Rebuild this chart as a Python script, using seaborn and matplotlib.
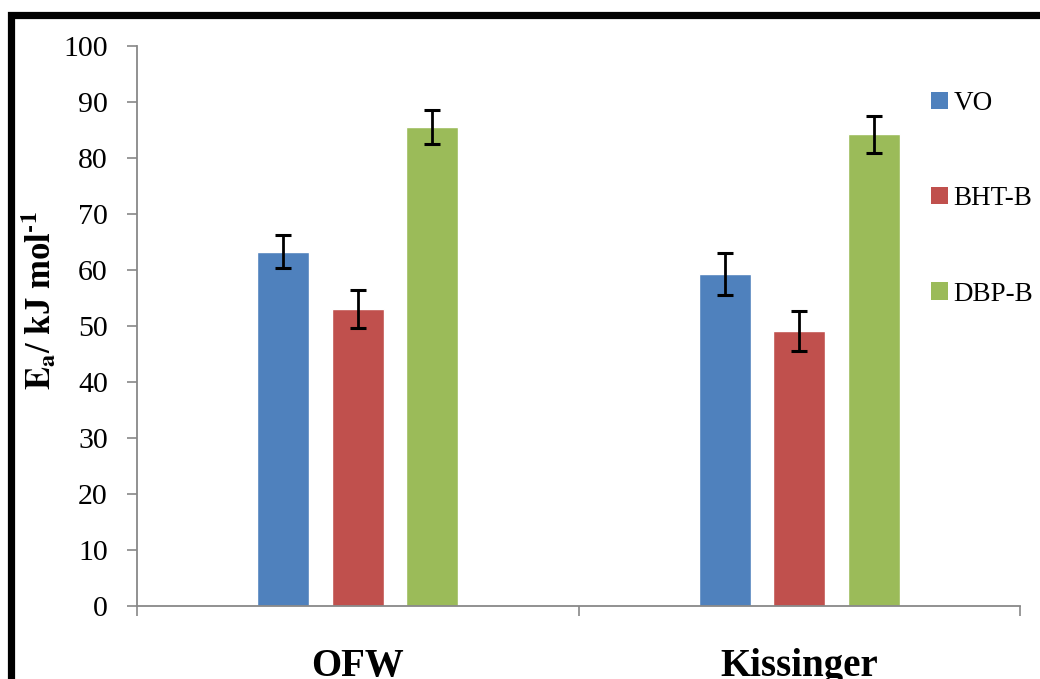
import numpy as np
import pandas as pd
import matplotlib
matplotlib.use("Agg")
import matplotlib.pyplot as plt
from matplotlib.patches import Rectangle
import seaborn as sns

# Activation energies (kJ/mol) by kinetic method and sample
methods = ["OFW", "Kissinger"]
samples = ["VO", "BHT-B", "DBP-B"]
ea_ofw = [63.3, 53.0, 85.5]
ea_kissinger = [59.3, 49.1, 84.2]
err_ofw = [3.0, 3.4, 3.05]
err_kissinger = [3.75, 3.6, 3.25]
yticks = [0, 10, 20, 30, 40, 50, 60, 70, 80, 90, 100]

palette = ["#4F81BD", "#C0504D", "#9BBB59"]

rows = []
for m, vals, errs in [("OFW", ea_ofw, err_ofw), ("Kissinger", ea_kissinger, err_kissinger)]:
    for s, v, e in zip(samples, vals, errs):
        rows.append({"method": m, "sample": s, "ea": v, "err": e})
df = pd.DataFrame(rows)

sns.set_theme(style="white")
plt.rcParams["font.family"] = ["Liberation Serif", "DejaVu Serif"]
plt.rcParams["mathtext.fontset"] = "stix"
plt.rcParams["text.color"] = "black"
plt.rcParams["axes.labelcolor"] = "black"
plt.rcParams["xtick.color"] = "black"
plt.rcParams["ytick.color"] = "black"

fig = plt.figure(figsize=(10.4, 6.79), dpi=100)
ax = fig.add_axes([137 / 1040, 1 - 606 / 679, (1020 - 137) / 1040, (606 - 46) / 679])

sns.barplot(data=df, x="method", y="ea", hue="sample", order=methods,
            hue_order=samples, palette=palette, width=0.507, gap=0.30,
            errorbar=None, saturation=1, ax=ax, legend=False)

# error bars placed at the centre of each drawn bar
bars = [p for p in ax.patches if isinstance(p, Rectangle)]
for i, s in enumerate(samples):
    for j, m in enumerate(methods):
        row = df[(df["method"] == m) & (df["sample"] == s)].iloc[0]
        p = bars[i * len(methods) + j]
        xc = p.get_x() + p.get_width() / 2
        ax.errorbar(xc, row["ea"], yerr=row["err"], fmt="none", ecolor="black",
                    elinewidth=2, capsize=5.5, capthick=2.2, zorder=5)

ax.set_ylim(0, 100)
ax.set_xlim(-0.5, 1.5)
ax.set_yticks(yticks)
ax.set_yticklabels([str(t) for t in yticks], fontsize=21.5)
ax.tick_params(axis="y", which="major", length=7, width=1.2, color="#888888",
               labelcolor="black", direction="out", left=True, pad=14)
ax.set_xticks(range(len(methods)))
ax.set_xticklabels(methods, fontsize=28, fontweight="bold")
ax.set_xticks([-0.5, 0.5, 1.5], minor=True)
ax.tick_params(axis="x", which="major", length=0, pad=30, labelcolor="black")
ax.tick_params(axis="x", which="minor", length=7, width=1.2, color="#888888",
               direction="out", bottom=True)
for side in ["top", "right"]:
    ax.spines[side].set_visible(False)
for side in ["left", "bottom"]:
    ax.spines[side].set_color("#888888")
    ax.spines[side].set_linewidth(1.3)
ax.set_xlabel("")
ax.set_ylabel("$\\mathbf{E_a}$/ kJ mol$^{\\mathbf{\u2010 1}}$", fontsize=25,
              fontweight="bold")
ax.yaxis.set_label_coords(-0.09, 0.546)

handles = [Rectangle((0, 0), 1, 1, facecolor=c, edgecolor="none") for c in palette]
fig.legend(handles, samples, loc="upper left", bbox_to_anchor=(920 / 1040, 1 - 80 / 679),
           frameon=False, fontsize=19.5, handlelength=0.62, handleheight=0.62,
           handletextpad=0.22, labelspacing=2.6, borderaxespad=0)

# heavy black frame around the chart
fig.patches.append(Rectangle((11 / 1040, -0.2), 1.2, 1.2 - 15 / 679,
                             transform=fig.transFigure, fill=False,
                             edgecolor="black", linewidth=5.2, clip_on=False))

fig.savefig("out.png", dpi=100)
